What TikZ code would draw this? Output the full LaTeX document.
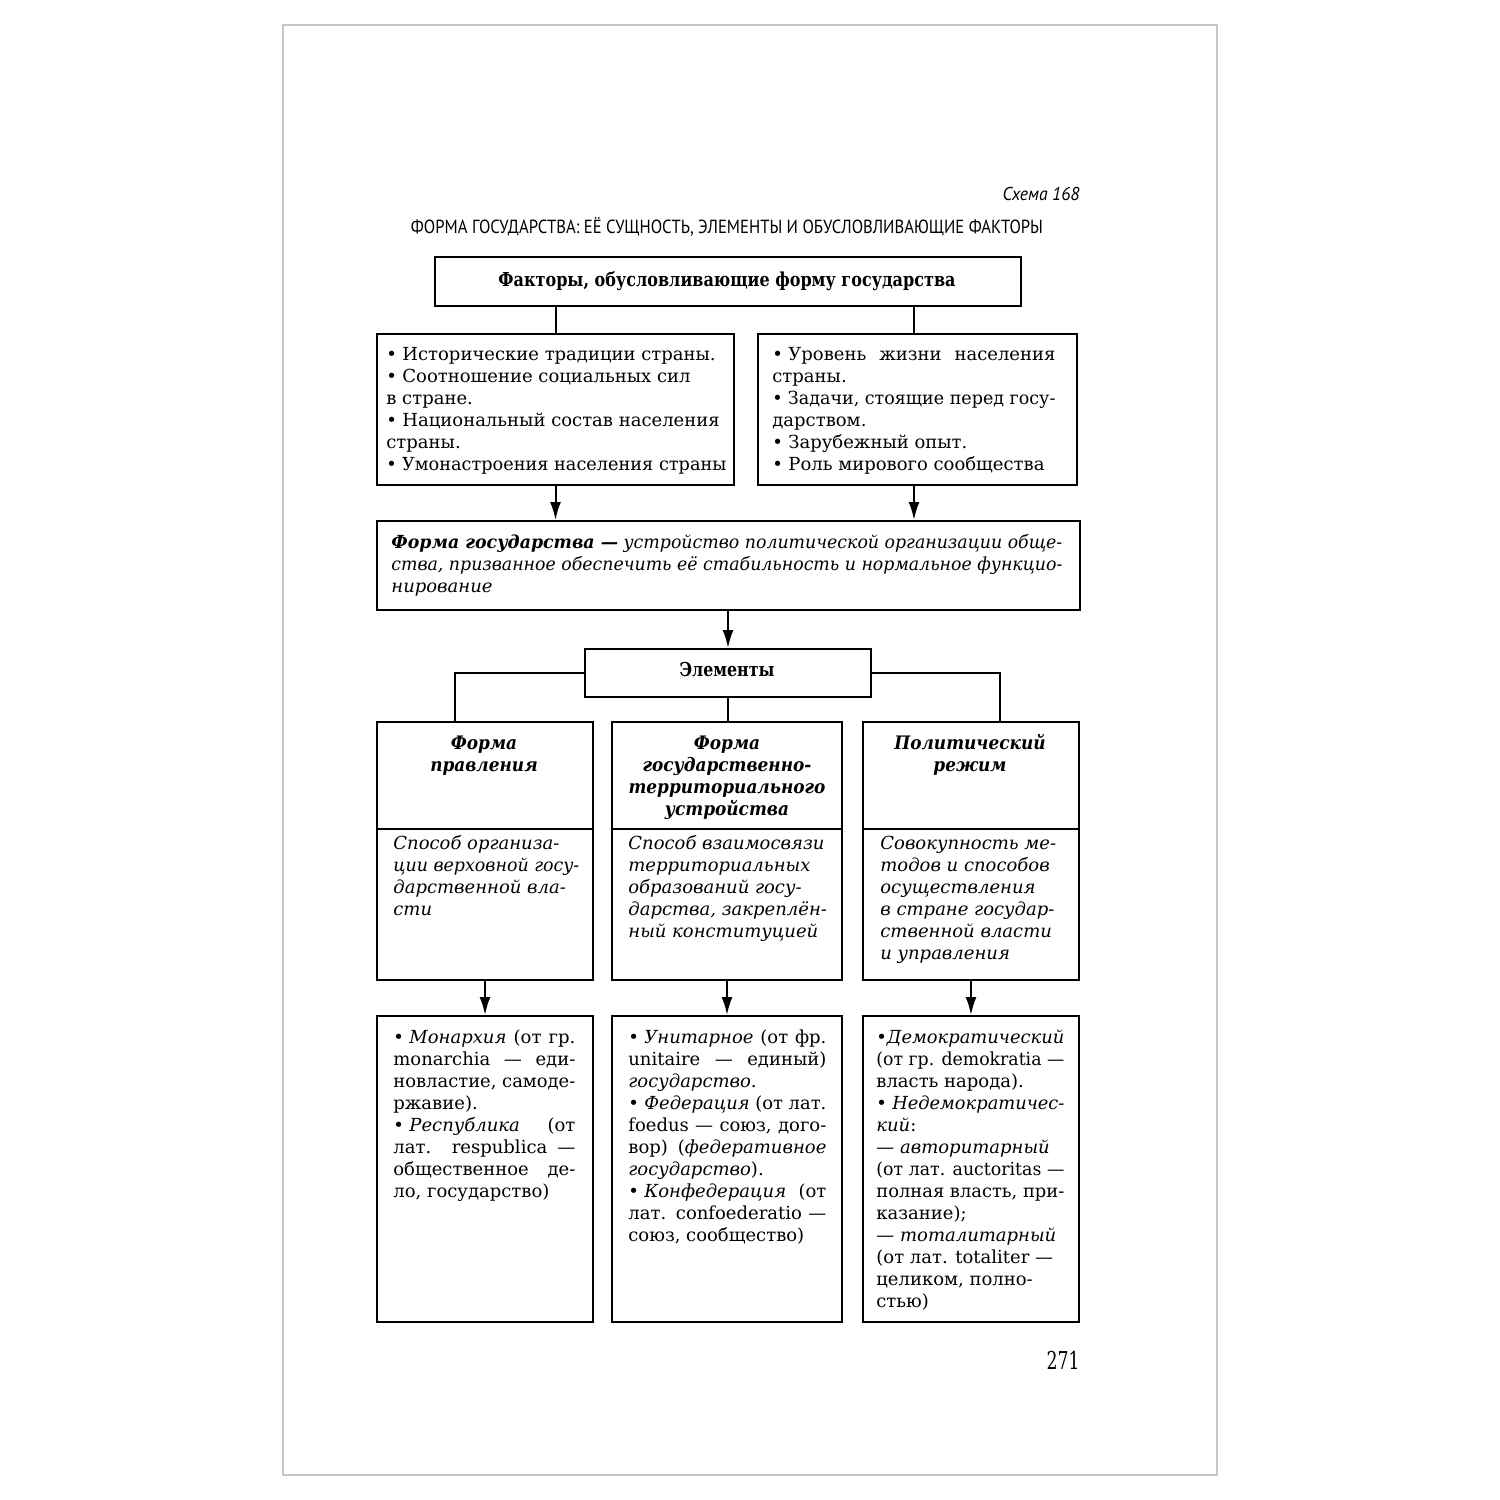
\documentclass[tikz,border=0pt]{standalone}
\usepackage{fontspec}
\usepackage{graphicx}
\setmainfont{DejaVu Serif}
\newfontfamily\ptsans{PT Sans}
\usetikzlibrary{arrows.meta,calc}
\newsavebox\lnbox
% justified line
\newcommand\LnJ[1]{\setbox\lnbox=\hbox{#1}%
  \ifdim\wd\lnbox>\hsize
    \pgfmathsetmacro\rr{\the\hsize/\the\wd\lnbox}%
    \hbox to\hsize{\scalebox{\rr}[1]{\box\lnbox}\hss}%
  \else
    \hbox to\hsize{#1}%
  \fi}
% left line
\newcommand\LnL[1]{\setbox\lnbox=\hbox{#1}%
  \ifdim\wd\lnbox>\hsize
    \pgfmathsetmacro\rr{\the\hsize/\the\wd\lnbox}%
    \hbox to\hsize{\scalebox{\rr}[1]{\box\lnbox}\hss}%
  \else
    \hbox to\hsize{\box\lnbox\hfil}%
  \fi}
% centred line
\newcommand\LnC[1]{\setbox\lnbox=\hbox{#1}%
  \ifdim\wd\lnbox>\hsize
    \pgfmathsetmacro\rr{\the\hsize/\the\wd\lnbox}%
    \hbox to\hsize{\scalebox{\rr}[1]{\box\lnbox}\hss}%
  \else
    \hbox to\hsize{\hfil\box\lnbox\hfil}%
  \fi}
\newcommand\HC[1]{\LnC{\scalebox{0.91}[1]{#1}}}
\newcommand\bul{•\kern0.3em}
\newcommand\Blk[2]{\vtop{\hsize=#1\relax\parindent=0pt\lineskiplimit=-20pt #2}}
\begin{document}
\begin{tikzpicture}[x=0.5pt,y=-0.5pt,
  box/.style={draw, line width=1pt, inner sep=0pt, anchor=north west},
  txt/.style={inner sep=0pt, font=\fontsize{9}{11}\selectfont},
  arr/.style={line width=1pt, -{Latex[length=9pt,width=5.5pt]}},
  ln/.style={line width=1pt}]
\useasboundingbox (0,0) rectangle (1500,1500);
\fill[white] (0,0) rectangle (1500,1500);
\draw[black!22, line width=0.6pt] (283,25) rectangle (1217,1475);

% header texts
\node[anchor=base east, inner sep=0pt] (sch) at (1080,200)
  {\ptsans\itshape\fontsize{9.3}{11}\selectfont\resizebox{38.5pt}{\height}{Схема 168}};
\node[anchor=base, inner sep=0pt] (title) at (727,233)
  {\ptsans\fontsize{9.5}{11}\selectfont\resizebox{316pt}{\height}{ФОРМА ГОСУДАРСТВА: ЕЁ СУЩНОСТЬ, ЭЛЕМЕНТЫ И ОБУСЛОВЛИВАЮЩИЕ ФАКТОРЫ}};

% boxes
\node[box, minimum width=293pt, minimum height=24.5pt] (top) at (434,256) {};
\node[box, minimum width=178.5pt, minimum height=75.5pt] (L) at (376,333) {};
\node[box, minimum width=159.5pt, minimum height=75.5pt] (R) at (757,333) {};
\node[box, minimum width=351.5pt, minimum height=44.5pt] (D) at (376,520) {};
\node[box, minimum width=143pt, minimum height=24pt] (E) at (584,648) {};
\node[box, minimum width=108pt, minimum height=129pt] (A) at (376,721) {};
\node[box, minimum width=115pt, minimum height=129pt] (B) at (611,721) {};
\node[box, minimum width=108pt, minimum height=129pt] (C) at (862,721) {};
\node[box, minimum width=108pt, minimum height=153pt] (A2) at (376,1015) {};
\node[box, minimum width=115pt, minimum height=153pt] (B2) at (611,1015) {};
\node[box, minimum width=108pt, minimum height=153pt] (C2) at (862,1015) {};

% connectors
\coordinate (rIn) at ([xshift=-1.75pt]R.north);
\coordinate (rOut) at ([xshift=-1.75pt]R.south);
\draw[ln] (top.south -| L.north) -- (L.north);
\draw[ln] (top.south -| rIn) -- (rIn);
\draw[arr] (L.south) -- (L.south |- D.north);
\draw[arr] (rOut) -- (rOut |- D.north);
\draw[arr] (D.south -| E.north) -- (E.north);
\coordinate (aIn) at (455,721);
\coordinate (cIn) at (1000,721);
\draw[ln] (E.west) -| (aIn);
\draw[ln] (E.east) -| (cIn);
\draw[ln] (E.south) -- (E.south |- B.north);
\draw[arr] (A.south) -- (A2.north);
\draw[arr] (B.south) -- (B2.north);
\draw[arr] (C.south) -- (C2.north);
\draw[ln] (A.west |- 0,829) -- (A.east |- 0,829);
\draw[ln] (B.west |- 0,829) -- (B.east |- 0,829);
\draw[ln] (C.west |- 0,829) -- (C.east |- 0,829);

% texts
\node[txt, anchor=base] (tTop) at (727,286)
  {\fontsize{9.6}{11}\selectfont\bfseries\resizebox{228.5pt}{\height}{Факторы, обусловливающие форму государства}};

\node[txt, anchor=base west] (tL) at (386,360) {\Blk{170pt}{%
\LnL{\bul Исторические традиции страны.}
\LnL{\bul Соотношение социальных сил}
\LnL{в стране.}
\LnL{\bul Национальный состав населения}
\LnL{страны.}
\LnL{\bul Умонастроения населения страны}}};

\node[txt, anchor=base west] (tR) at (772,360) {\Blk{141.5pt}{%
\LnJ{\bul Уровень жизни населения}
\LnL{страны.}
\LnJ{\bul Задачи, стоящие перед госу-}
\LnL{дарством.}
\LnL{\bul Зарубежный опыт.}
\LnL{\bul Роль мирового сообщества}}};

\node[txt, anchor=base west] (tD) at (391,548) {\Blk{335.5pt}{%
\LnJ{\textbf{\textit{Форма государства —}} \textit{устройство политической организации обще-}}
\LnJ{\textit{ства, призванное обеспечить её стабильность и нормальное функцио-}}
\LnL{\textit{нирование}}}};

\node[txt, anchor=base, font=\fontsize{9.6}{11}\selectfont\bfseries] (tE) at (727,676)
  {\resizebox{47.5pt}{\height}{Элементы}};

\node[txt, anchor=base, font=\fontsize{9.3}{11}\selectfont\bfseries\itshape] (hA) at (484,749) {\Blk{100pt}{%
\HC{Форма}
\HC{правления}}};
\node[txt, anchor=base, font=\fontsize{9.3}{11}\selectfont\bfseries\itshape] (hB) at (727,749) {\Blk{108pt}{%
\HC{Форма}
\HC{государственно-}
\HC{территориального}
\HC{устройства}}};
\node[txt, anchor=base, font=\fontsize{9.3}{11}\selectfont\bfseries\itshape] (hC) at (970,749) {\Blk{100pt}{%
\HC{Политический}
\HC{режим}}};

\node[txt, anchor=base west, font=\fontsize{9}{11}\selectfont\itshape] (bA) at (393,849) {\Blk{93pt}{%
\LnL{Способ организа-}
\LnL{ции верховной госу-}
\LnL{дарственной вла-}
\LnL{сти}}};
\node[txt, anchor=base west, font=\fontsize{9}{11}\selectfont\itshape] (bB) at (628,849) {\Blk{100pt}{%
\LnL{Способ взаимосвязи}
\LnL{территориальных}
\LnL{образований госу-}
\LnL{дарства, закреплён-}
\LnL{ный конституцией}}};
\node[txt, anchor=base west, font=\fontsize{9}{11}\selectfont\itshape] (bC) at (880,849) {\Blk{92pt}{%
\LnL{Совокупность ме-}
\LnL{тодов и способов}
\LnL{осуществления}
\LnL{в стране государ-}
\LnL{ственной власти}
\LnL{и управления}}};

\node[txt, anchor=base west] (lA) at (393,1043) {\Blk{91pt}{%
\LnJ{\bul\textit{Монархия} (от гр.}
\LnJ{monarchia — еди-}
\LnJ{новластие, самоде-}
\LnL{ржавие).}
\LnJ{\bul\textit{Республика} (от}
\LnJ{лат. respublica —}
\LnJ{общественное де-}
\LnL{ло, государство)}}};

\node[txt, anchor=base west] (lB) at (628,1043) {\Blk{99pt}{%
\LnJ{\bul\textit{Унитарное} (от фр.}
\LnJ{unitaire — единый)}
\LnL{\textit{государство}.}
\LnJ{\bul\textit{Федерация} (от лат.}
\LnJ{foedus — союз, дого-}
\LnJ{вор) (\textit{федеративное}}
\LnL{\textit{государство}).}
\LnJ{\bul\textit{Конфедерация} (от}
\LnJ{лат. confoederatio —}
\LnL{союз, сообщество)}}};

\node[txt, anchor=base west] (lC) at (876,1043) {\Blk{94pt}{%
\LnL{•\textit{Демократический}}
\LnJ{(от гр. demokratia —}
\LnL{власть народа).}
\LnL{\bul\textit{Недемократичес-}}
\LnL{\textit{кий}:}
\LnL{— \textit{авторитарный}}
\LnJ{(от лат. auctoritas —}
\LnJ{полная власть, при-}
\LnL{казание);}
\LnL{— \textit{тоталитарный}}
\LnL{(от лат. totaliter —}
\LnL{целиком, полно-}
\LnL{стью)}}};

\node[anchor=base east, inner sep=0pt] (pg) at (1080,1369)
  {\fontsize{12.3}{14}\selectfont\resizebox{16.5pt}{\height}{271}};
\end{tikzpicture}
\end{document}
